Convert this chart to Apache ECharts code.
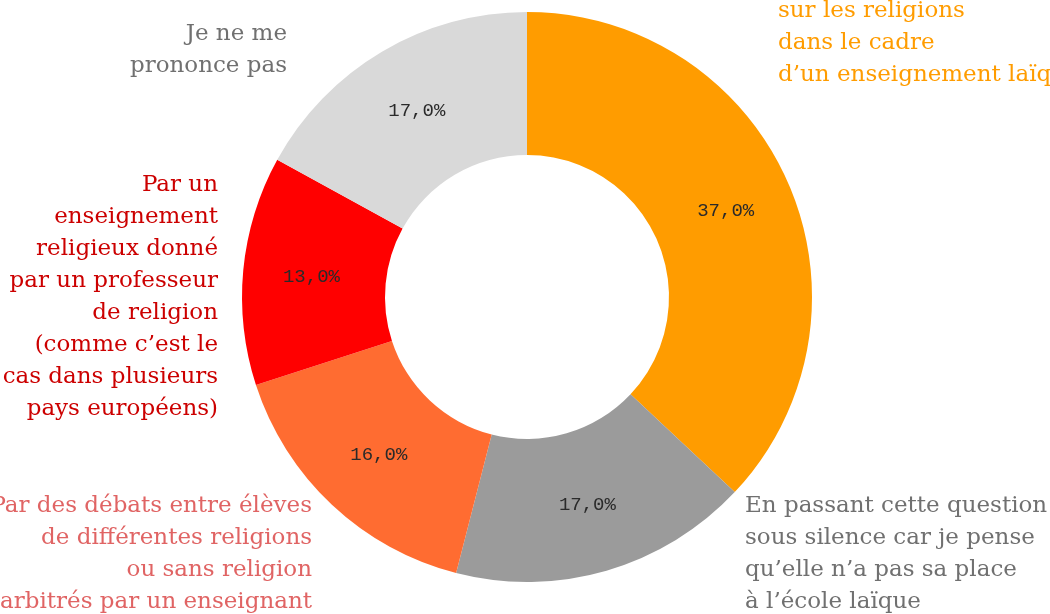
<!DOCTYPE html>
<html>
<head>
<meta charset="utf-8">
<style>
  html, body { margin: 0; padding: 0; background: #ffffff; }
  #chart { width: 1050px; height: 614px; }
</style>
<script src="https://cdn.jsdelivr.net/npm/echarts@6/dist/echarts.min.js"></script>
</head>
<body>
<div id="chart"></div>
<script>
// Réponses (en %), dans l'ordre horaire à partir de midi
const categories = [
  'Par un enseignement\ndes connaissances\nsur les religions\ndans le cadre\nd\u2019un enseignement laïque',
  'En passant cette question\nsous silence car je pense\nqu\u2019elle n\u2019a pas sa place\nà l\u2019école laïque',
  'Par des débats entre élèves\nde différentes religions\nou sans religion\narbitrés par un enseignant',
  'Par un\nenseignement\nreligieux donné\npar un professeur\nde religion\n(comme c\u2019est le\ncas dans plusieurs\npays européens)',
  'Je ne me\nprononce pas'
];
const values = [37.0, 17.0, 16.0, 13.0, 17.0];

// Couleurs des parts et des intitulés
const sliceColors = ['#ff9c00', '#9b9b9b', '#ff6c31', '#ff0000', '#d9d9d9'];
const nameColors  = ['#ff9c00', '#707070', '#e06464', '#cc0000', '#707070'];

// Emplacement des intitulés autour de l'anneau : [x, y du centre du bloc, alignement]
const namePlacement = [
  [778, 11, 'left'],
  [745, 554, 'left'],
  [312, 554, 'right'],
  [218, 297, 'right'],
  [287, 50, 'right']
];

const pieData = categories.map((name, i) => ({
  name: name,
  value: values[i],
  itemStyle: { color: sliceColors[i] }
}));

const nameData = categories.map((name, i) => ({
  name: name,
  value: values[i],
  label: { color: nameColors[i], align: namePlacement[i][2] }
}));

const fmtPct = v => v.toFixed(1).replace('.', ',') + '%';

const chart = echarts.init(document.getElementById('chart'), null, { renderer: 'canvas' });
chart.setOption({
  backgroundColor: '#ffffff',
  animation: false,
  series: [
    {
      type: 'pie',
      center: [527, 297],
      radius: [142, 285],
      startAngle: 90,
      clockwise: true,
      avoidLabelOverlap: false,
      data: pieData,
      itemStyle: { borderWidth: 0 },
      label: {
        show: true,
        position: 'inside',
        formatter: p => fmtPct(p.value),
        fontFamily: '"Liberation Mono", "DejaVu Sans Mono", monospace',
        fontSize: 19,
        color: '#2a2a2a'
      },
      labelLine: { show: false },
      emphasis: { disabled: true }
    },
    {
      type: 'pie',
      center: [527, 297],
      radius: [142, 285],
      startAngle: 90,
      clockwise: true,
      silent: true,
      avoidLabelOverlap: false,
      data: nameData,
      itemStyle: { color: 'rgba(0,0,0,0)' },
      label: {
        show: true,
        position: 'outside',
        formatter: p => p.name,
        fontFamily: '"DejaVu Serif", Georgia, serif',
        fontSize: 23,
        lineHeight: 32
      },
      labelLine: { show: false },
      labelLayout: p => ({
        x: namePlacement[p.dataIndex][0],
        y: namePlacement[p.dataIndex][1],
        align: namePlacement[p.dataIndex][2],
        verticalAlign: 'middle',
        hideOverlap: false
      }),
      emphasis: { disabled: true }
    }
  ]
});
</script>
</body>
</html>
